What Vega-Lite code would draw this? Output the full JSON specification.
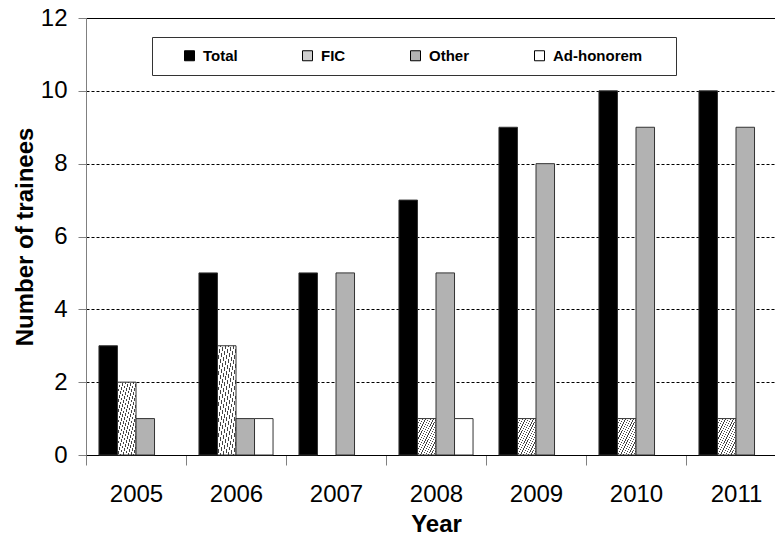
{
  "$schema": "https://vega.github.io/schema/vega-lite/v6.json",
  "width": 700,
  "height": 437,
  "autosize": "none",
  "padding": {"left": 86, "top": 18, "right": 0, "bottom": 84},
  "background": "white",
  "config": {"view": {"stroke": null}, "font": "Liberation Sans"},
  "data": {
    "values": [
      {"year": "2005", "series": "Total", "count": 3},
      {"year": "2005", "series": "FIC", "count": 2},
      {"year": "2005", "series": "Other", "count": 1},
      {"year": "2005", "series": "Ad-honorem", "count": 0},
      {"year": "2006", "series": "Total", "count": 5},
      {"year": "2006", "series": "FIC", "count": 3},
      {"year": "2006", "series": "Other", "count": 1},
      {"year": "2006", "series": "Ad-honorem", "count": 1},
      {"year": "2007", "series": "Total", "count": 5},
      {"year": "2007", "series": "FIC", "count": 0},
      {"year": "2007", "series": "Other", "count": 5},
      {"year": "2007", "series": "Ad-honorem", "count": 0},
      {"year": "2008", "series": "Total", "count": 7},
      {"year": "2008", "series": "FIC", "count": 1},
      {"year": "2008", "series": "Other", "count": 5},
      {"year": "2008", "series": "Ad-honorem", "count": 1},
      {"year": "2009", "series": "Total", "count": 9},
      {"year": "2009", "series": "FIC", "count": 1},
      {"year": "2009", "series": "Other", "count": 8},
      {"year": "2009", "series": "Ad-honorem", "count": 0},
      {"year": "2010", "series": "Total", "count": 10},
      {"year": "2010", "series": "FIC", "count": 1},
      {"year": "2010", "series": "Other", "count": 9},
      {"year": "2010", "series": "Ad-honorem", "count": 0},
      {"year": "2011", "series": "Total", "count": 10},
      {"year": "2011", "series": "FIC", "count": 1},
      {"year": "2011", "series": "Other", "count": 9},
      {"year": "2011", "series": "Ad-honorem", "count": 0}
    ]
  },
  "transform": [{"filter": "datum.count > 0"}],
  "mark": {"type": "bar", "stroke": "#333", "strokeWidth": 1},
  "encoding": {
    "x": {
      "field": "year",
      "type": "ordinal",
      "scale": {"paddingInner": 0, "paddingOuter": 0},
      "axis": {
        "title": "Year",
        "titleFontSize": 24,
        "titleFontWeight": "bold",
        "titleColor": "#000",
        "titlePadding": 6,
        "labelFontSize": 24,
        "labelColor": "#000",
        "labelAngle": 0,
        "labelPadding": 17,
        "tickBand": "extent",
        "tickSize": 10,
        "tickColor": "#808080",
        "domainColor": "#000",
        "grid": false
      }
    },
    "xOffset": {
      "field": "series",
      "scale": {"domain": ["Total", "FIC", "Other", "Ad-honorem"], "paddingInner": 0, "paddingOuter": 0.7}
    },
    "y": {
      "field": "count",
      "type": "quantitative",
      "scale": {"domain": [0, 12], "nice": false},
      "axis": {
        "title": "Number of trainees",
        "values": [0, 2, 4, 6, 8, 10, 12],
        "titleFontSize": 24,
        "titleFontWeight": "bold",
        "titleColor": "#000",
        "titlePadding": 3,
        "labelFontSize": 24,
        "labelColor": "#000",
        "labelPadding": 11,
        "tickSize": 8,
        "tickColor": "#808080",
        "domainColor": "#808080",
        "grid": true,
        "gridColor": "#000",
        "gridOpacity": 1,
        "gridWidth": 1,
        "gridDash": {"condition": {"test": "datum.value === 12 || datum.value === 0", "value": []}, "value": [3, 2]}
      }
    },
    "fill": {
      "condition": {
        "test": "datum.series === 'FIC'",
        "value": {
          "gradient": "linear", "x1": 0, "y1": 0, "x2": 1, "y2": 1,
          "stops": [
            {"offset": 0, "color": "#444"}, {"offset": 0.018, "color": "#444"}, {"offset": 0.018, "color": "#fff"}, {"offset": 0.0714, "color": "#fff"},
            {"offset": 0.0714, "color": "#444"}, {"offset": 0.0894, "color": "#444"}, {"offset": 0.0894, "color": "#fff"}, {"offset": 0.1429, "color": "#fff"},
            {"offset": 0.1429, "color": "#444"}, {"offset": 0.1609, "color": "#444"}, {"offset": 0.1609, "color": "#fff"}, {"offset": 0.2143, "color": "#fff"},
            {"offset": 0.2143, "color": "#444"}, {"offset": 0.2323, "color": "#444"}, {"offset": 0.2323, "color": "#fff"}, {"offset": 0.2857, "color": "#fff"},
            {"offset": 0.2857, "color": "#444"}, {"offset": 0.3037, "color": "#444"}, {"offset": 0.3037, "color": "#fff"}, {"offset": 0.3571, "color": "#fff"},
            {"offset": 0.3571, "color": "#444"}, {"offset": 0.3751, "color": "#444"}, {"offset": 0.3751, "color": "#fff"}, {"offset": 0.4286, "color": "#fff"},
            {"offset": 0.4286, "color": "#444"}, {"offset": 0.4466, "color": "#444"}, {"offset": 0.4466, "color": "#fff"}, {"offset": 0.5, "color": "#fff"},
            {"offset": 0.5, "color": "#444"}, {"offset": 0.518, "color": "#444"}, {"offset": 0.518, "color": "#fff"}, {"offset": 0.5714, "color": "#fff"},
            {"offset": 0.5714, "color": "#444"}, {"offset": 0.5894, "color": "#444"}, {"offset": 0.5894, "color": "#fff"}, {"offset": 0.6429, "color": "#fff"},
            {"offset": 0.6429, "color": "#444"}, {"offset": 0.6609, "color": "#444"}, {"offset": 0.6609, "color": "#fff"}, {"offset": 0.7143, "color": "#fff"},
            {"offset": 0.7143, "color": "#444"}, {"offset": 0.7323, "color": "#444"}, {"offset": 0.7323, "color": "#fff"}, {"offset": 0.7857, "color": "#fff"},
            {"offset": 0.7857, "color": "#444"}, {"offset": 0.8037, "color": "#444"}, {"offset": 0.8037, "color": "#fff"}, {"offset": 0.8571, "color": "#fff"},
            {"offset": 0.8571, "color": "#444"}, {"offset": 0.8751, "color": "#444"}, {"offset": 0.8751, "color": "#fff"}, {"offset": 0.9286, "color": "#fff"},
            {"offset": 0.9286, "color": "#444"}, {"offset": 0.9466, "color": "#444"}, {"offset": 0.9466, "color": "#fff"}, {"offset": 1, "color": "#fff"}
          ]
        }
      },
      "field": "series",
      "type": "nominal",
      "scale": {"domain": ["Total", "FIC", "Other", "Ad-honorem"], "range": ["#000000", "#d0d0d0", "#b2b2b2", "#ffffff"]},
      "legend": {
        "orient": "none",
        "legendX": 66,
        "legendY": 19,
        "direction": "horizontal",
        "title": " ",
        "titleOrient": "left",
        "titlePadding": 19,
        "titleFontSize": 11,
        "padding": 11,
        "strokeColor": "#333",
        "fillColor": "#fff",
        "symbolType": "square",
        "symbolSize": 100,
        "symbolStrokeColor": "#000",
        "symbolStrokeWidth": 1,
        "labelFontSize": 15,
        "labelFontWeight": "bold",
        "labelColor": "#000",
        "labelOffset": 6,
        "columnPadding": 62,
        "labelExpr": "datum.label === 'Ad-honorem' ? datum.label + '\u2800\u2800' : datum.label",
        "encode": {
          "symbols": {
            "update": {
              "stroke": {"value": "#000"},
              "strokeWidth": {"value": 1}
            }
          }
        }
      }
    }
  }
}
